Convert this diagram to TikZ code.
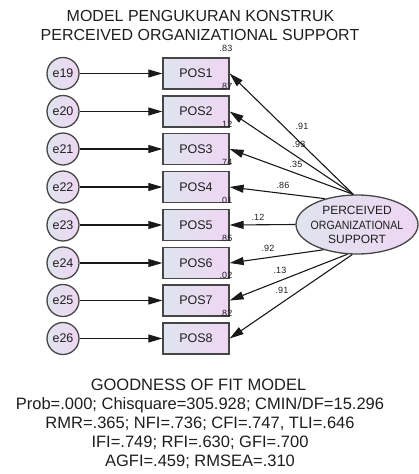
\documentclass[tikz,border=0pt]{standalone}
\usepackage{fontspec}
\usepackage{graphicx}
\setmainfont{Liberation Sans}
\usetikzlibrary{arrows.meta,shapes.geometric}
\definecolor{fillL}{RGB}{224,228,238}
\definecolor{fillR}{RGB}{238,214,243}
\definecolor{boxline}{RGB}{70,70,70}
\definecolor{txt}{RGB}{30,30,30}
\begin{document}
\begin{tikzpicture}[x=1pt,y=-1pt,
  box/.style={draw=boxline, line width=1.3pt, left color=fillL, right color=fillR,
    minimum width=66pt, minimum height=31pt, inner sep=0pt, text=txt,
    font=\fontsize{12.5}{14}\selectfont},
  err/.style={circle, draw=boxline, line width=1.3pt, left color=fillL, right color=fillR,
    minimum size=32pt, inner sep=0pt, text=txt, font=\fontsize{12.5}{14}\selectfont},
  con/.style={line width=1.1pt, draw=black!90, -{Triangle[length=14pt,width=8pt]}},
  ld/.style={font=\fontsize{9}{10}\selectfont, inner sep=0pt, text=txt},
  rsq/.style={font=\fontsize{9}{10}\selectfont, inner sep=0pt, text=txt},
  ttl/.style={anchor=base, inner sep=0pt, text=txt, font=\fontsize{16}{19}\selectfont},
  gof/.style={anchor=base, inner sep=0pt, text=txt, font=\fontsize{16.5}{19}\selectfont}
]
\useasboundingbox (0,0) rectangle (419,474);

% title
\node[ttl] (t1) at (200.5,21) {MODEL PENGUKURAN KONSTRUK};
\node[ttl] (t2) at (200,40.7) {PERCEIVED ORGANIZATIONAL SUPPORT};

% indicators and errors
\foreach \i/\e/\y in {1/19/73.5, 2/20/111.5, 3/21/149, 4/22/187, 5/23/225, 6/24/263, 7/25/300.5, 8/26/338.5}{
  \node[box] (b\i) at (196,\y) {POS\i};
  \node[err] (e\e) at (63,\y) {e\e};
  \draw[con] (e\e) -- (b\i);
}

% latent variable
\node[ellipse, draw=boxline, line width=1.3pt, left color=fillL, right color=fillR,
  minimum width=122pt, minimum height=59pt, inner sep=0pt] (lv) at (357,224.5) {};
\node[align=center, inner sep=0pt, text=txt, font=\fontsize{12}{14.5}\selectfont] (lvt) at (357,225)
  {PERCEIVED\\\scalebox{0.88}[1]{ORGANIZATIONAL}\\SUPPORT};

% loadings
\draw[con] (lv.97) -- (b1.east);
\draw[con] (lv.97) -- (b2.east);
\draw[con] (lv.97) -- (b3.east);
\draw[con] (lv.141) -- (b4.east);
\draw[con] (lv.180) -- (b5.east);
\draw[con] (lv.217) -- (b6.east);
\draw[con] (lv.252) -- (b7.east);
\draw[con] (lv.261) -- (b8.east);

\node[ld] (l1) at (302,126) {.91};
\node[ld] (l2) at (299,144) {.93};
\node[ld] (l3) at (296,164) {.35};
\node[ld] (l4) at (283,185) {.86};
\node[ld] (l5) at (258,217) {.12};
\node[ld] (l6) at (268,248) {.92};
\node[ld] (l7) at (280,270) {.13};
\node[ld] (l8) at (282,290) {.91};

% squared multiple correlations
\node[rsq] (r1) at (226,48.5) {.83};
\node[rsq] (r2) at (226,86.5) {.87};
\node[rsq] (r3) at (226,124) {.12};
\node[rsq] (r4) at (226,162) {.74};
\node[rsq] (r5) at (226,200) {.01};
\node[rsq] (r6) at (226,238) {.85};
\node[rsq] (r7) at (226,275.5) {.02};
\node[rsq] (r8) at (226,313.5) {.82};

% goodness of fit
\node[gof] (g1) at (198.5,390.7) {GOODNESS OF FIT MODEL};
\node[gof] (g2) at (200,409) {Prob=.000; Chisquare=305.928; CMIN/DF=15.296};
\node[gof] (g3) at (200,428.3) {RMR=.365; NFI=.736; CFI=.747, TLI=.646};
\node[gof] (g4) at (200,447.7) {IFI=.749; RFI=.630; GFI=.700};
\node[gof] (g5) at (200,466.7) {AGFI=.459; RMSEA=.310};
\end{tikzpicture}
\end{document}
